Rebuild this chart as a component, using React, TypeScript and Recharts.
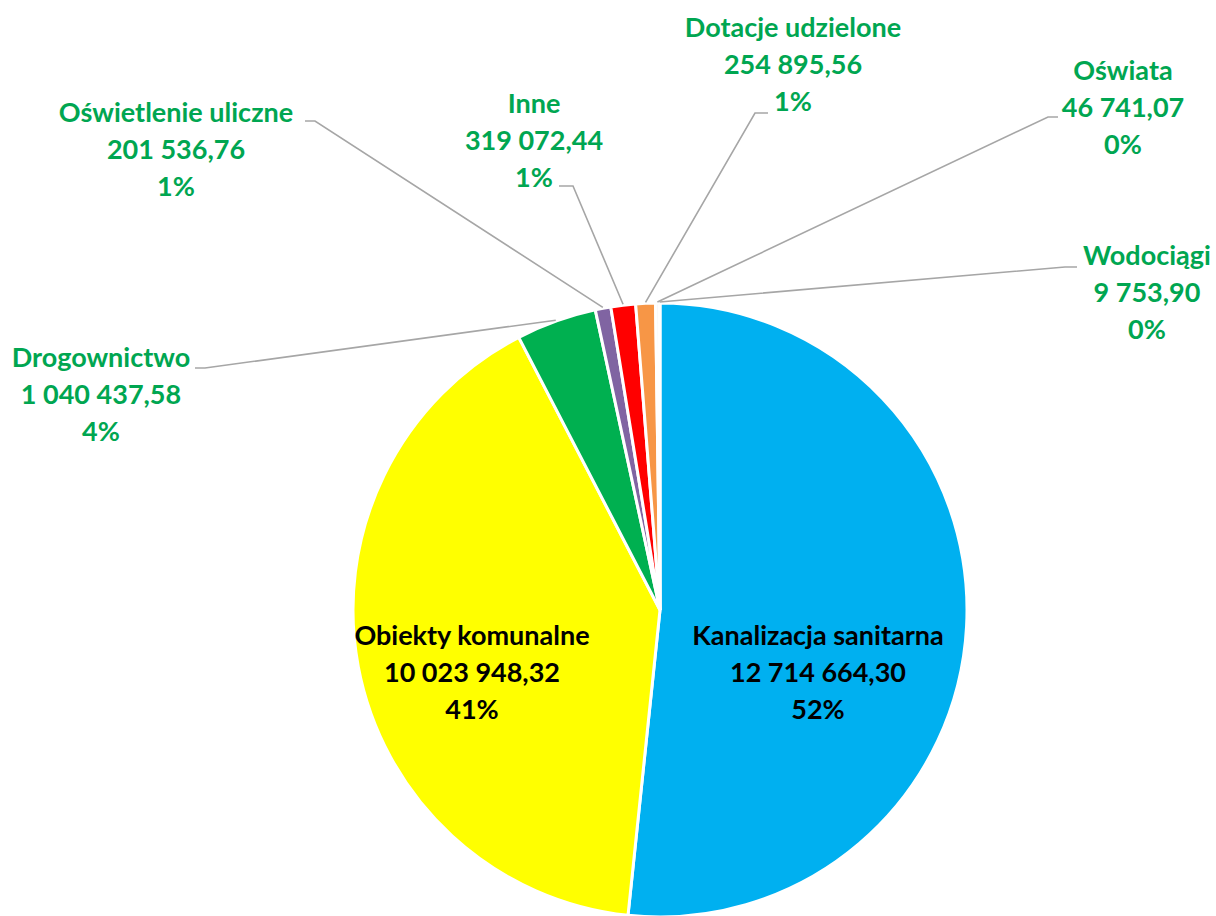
import { Cell, Pie, PieChart } from "recharts";

const CATEGORIES = [
  "Kanalizacja sanitarna",
  "Obiekty komunalne",
  "Drogownictwo",
  "Oświetlenie uliczne",
  "Inne",
  "Dotacje udzielone",
  "Oświata",
  "Wodociągi",
];
const AMOUNTS = [
  12714664.3, 10023948.32, 1040437.58, 201536.76, 319072.44, 254895.56,
  46741.07, 9753.9,
];
const COLORS = [
  "#00B0F0",
  "#FFFF00",
  "#00B050",
  "#8064A2",
  "#FF0000",
  "#F79646",
  "#F2F2F2",
  "#F2F2F2",
];

const LABEL_GREEN = "#00A651";
const LEADER = "#A6A6A6";
const FONT = "Lato, 'Open Sans', sans-serif";
const FONT_SIZE = 27;
const LINE_H = 37;

// where each label sits (centre x, first baseline) and where its leader line hooks in
const LABEL_LAYOUT = [
  { inside: true, x: 818, y: 645 },
  { inside: true, x: 472, y: 645 },
  { x: 101, y: 367, hookX: 195, elbowX: 205, hookY: 368 },
  { x: 176, y: 122, hookX: 305, elbowX: 315, hookY: 121 },
  { x: 534, y: 113, hookX: 559, elbowX: 573, hookY: 186 },
  { x: 793, y: 37, hookX: 768, elbowX: 755, hookY: 113 },
  { x: 1123, y: 80, hookX: 1058, elbowX: 1048, hookY: 117 },
  { x: 1147, y: 265, hookX: 1077, elbowX: 1065, hookY: 267 },
];

const data = CATEGORIES.map((name, i) => ({ name, value: AMOUNTS[i] }));

function formatPl(v: number): string {
  const [int, dec] = v.toFixed(2).split(".");
  return int.replace(/\B(?=(\d{3})+(?!\d))/g, " ") + "," + dec;
}

const RAD = Math.PI / 180;

function renderLabel(props: any) {
  const { cx, cy, midAngle, outerRadius, index, percent, payload } = props;
  const lay: any = LABEL_LAYOUT[index];
  const lines = [
    payload.name,
    formatPl(payload.value),
    Math.round(percent * 100) + "%",
  ];
  let leader = null;
  if (!lay.inside) {
    const sx = cx + (outerRadius + 1) * Math.cos(-midAngle * RAD);
    const sy = cy + (outerRadius + 1) * Math.sin(-midAngle * RAD);
    leader = (
      <polyline
        points={`${sx},${sy} ${lay.elbowX},${lay.hookY} ${lay.hookX},${lay.hookY}`}
        fill="none"
        stroke={LEADER}
        strokeWidth={1.6}
      />
    );
  }
  return (
    <g key={`lbl-${index}`}>
      {leader}
      <text
        x={lay.x}
        y={lay.y}
        textAnchor="middle"
        fill={lay.inside ? "#000000" : LABEL_GREEN}
        style={{ fontFamily: FONT, fontSize: FONT_SIZE, fontWeight: 700 }}
      >
        {lines.map((t, i) => (
          <tspan key={i} x={lay.x} y={lay.y + i * LINE_H}>
            {t}
          </tspan>
        ))}
      </text>
    </g>
  );
}

export default function App() {
  return (
    <div
      style={{
        position: "absolute",
        left: 0,
        top: 0,
        width: 1216,
        height: 916,
        background: "#ffffff",
      }}
    >
      <PieChart width={1216} height={916} margin={{ top: 0, right: 0, bottom: 0, left: 0 }}>
        <Pie
          data={data}
          dataKey="value"
          nameKey="name"
          cx={660}
          cy={610}
          outerRadius={307}
          startAngle={90}
          endAngle={-270}
          stroke="#ffffff"
          strokeWidth={3}
          label={renderLabel}
          labelLine={false}
          isAnimationActive={false}
        >
          {data.map((d, i) => (
            <Cell key={d.name} fill={COLORS[i]} />
          ))}
        </Pie>
      </PieChart>
    </div>
  );
}
